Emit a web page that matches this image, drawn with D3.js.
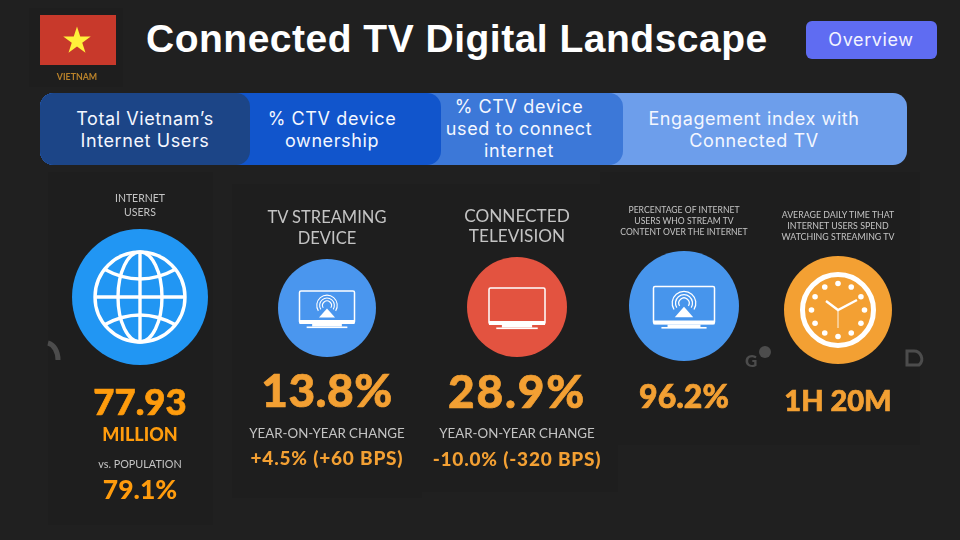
<!DOCTYPE html>
<html>
<head>
<meta charset="utf-8">
<script src="https://cdn.jsdelivr.net/npm/d3@7"></script>
<style>
  html, body { margin: 0; padding: 0; background: #202020; }
  svg { display: block; }
</style>
</head>
<body>
<svg id="canvas"></svg>
<script>
// Data
let titleText = 'Connected TV Digital Landscape'
let badgeText = 'Overview'
let countryText = 'VIETNAM'

let pillLabels = [
  ['Total Vietnam’s', 'Internet Users'],
  ['% CTV device', 'ownership'],
  ['% CTV device', 'used to connect', 'internet'],
  ['Engagement index with', 'Connected TV']
]

let columns = ['users', 'device', 'ctv', 'share', 'time']
let headings = [
  ['INTERNET', 'USERS'],
  ['TV STREAMING', 'DEVICE'],
  ['CONNECTED', 'TELEVISION'],
  ['PERCENTAGE OF INTERNET', 'USERS WHO STREAM TV', 'CONTENT OVER THE INTERNET'],
  ['AVERAGE DAILY TIME THAT', 'INTERNET USERS SPEND', 'WATCHING STREAMING TV']
]
let mainValues = ['77.93', '13.8%', '28.9%', '96.2%', '1H 20M']
let subLabels = ['vs. POPULATION', 'YEAR-ON-YEAR CHANGE', 'YEAR-ON-YEAR CHANGE', '', '']
let subValues = ['79.1%', '+4.5% (+60 BPS)', '-10.0% (-320 BPS)', '', '']
let unitLabel = 'MILLION'

// Layout
let width = 960
let height = 540
let bg = '#202020'
let panelColor = '#1e1e1e'
let labelColor = '#c4c4c4'
let logoColor = '#4c4c4c'
let amber = '#f3a033'
let amberBright = '#ff9c0d'
let infoFont = 'Lato, sans-serif'
let uiFont = 'Inter, sans-serif'

let x = d3.scaleOrdinal().domain(columns).range([140, 327, 517, 684, 838])
let circleY = d3.scaleOrdinal().domain(columns).range([297, 308, 307, 306, 310])
let circleR = d3.scaleOrdinal().domain(columns).range([68, 49, 50, 55, 54])
let circleFill = d3.scaleOrdinal().domain(columns).range(['#2196f3', '#4a96ee', '#e35340', '#4795ec', '#f3a033'])
let headY = d3.scaleOrdinal().domain(columns).range([202, 223, 222, 213, 218])
let headStep = d3.scaleOrdinal().domain(columns).range([14, 21, 20, 11, 11])
let headSize = d3.scaleOrdinal().domain(columns).range([10.5, 16.5, 17.2, 8.6, 8.8])
let valueY = d3.scaleOrdinal().domain(columns).range([415, 407, 408, 408, 411])
let valueSize = d3.scaleOrdinal().domain(columns).range([36.5, 46, 46, 32, 29])
let valueSpacing = d3.scaleOrdinal().domain(columns).range([0, 0.5, 1.8, 0, 0])
let subLabelY = d3.scaleOrdinal().domain(columns).range([468, 438, 438, 0, 0])
let subLabelSize = d3.scaleOrdinal().domain(columns).range([10.8, 13.3, 13.3, 0, 0])
let subValueY = d3.scaleOrdinal().domain(columns).range([499, 465, 466, 0, 0])
let subValueSize = d3.scaleOrdinal().domain(columns).range([26.5, 19, 19, 0, 0])
let subValueSpacing = d3.scaleOrdinal().domain(columns).range([0, 0.8, 0.8, 0, 0])

let pillX = d3.scaleOrdinal().domain([0, 1, 2, 3]).range([250, 441, 623, 907])
let pillFill = d3.scaleOrdinal().domain([0, 1, 2, 3]).range(['#1c4587', '#1155cc', '#3c78d8', '#6d9eeb'])
let pillTextX = d3.scaleOrdinal().domain([0, 1, 2, 3]).range([145, 332, 519, 754])

let svg = d3.select('#canvas').attr('width', width).attr('height', height)
svg.append('rect').attr('width', width).attr('height', height).attr('fill', bg)

// the infographic was pasted in as a soft image, so keep it a little blurry
// sRGB here, the default linearRGB crushes the dark panel colours
let defs = svg.append('defs')
defs.append('filter')
  .attr('id', 'soft')
  .attr('color-interpolation-filters', 'sRGB')
  .append('feGaussianBlur')
  .attr('stdDeviation', 0.65)

let drawHeader = () => {
  let flag = svg.append('g').attr('filter', 'url(#soft)')
  flag.append('rect').attr('x', 29).attr('y', 8).attr('width', 94).attr('height', 79).attr('fill', panelColor)
  flag.append('rect').attr('x', 40).attr('y', 15).attr('width', 76).attr('height', 50).attr('fill', '#c8392b')

  flag.append('path')
    .attr('d', d3.symbol(d3.symbolStar, 235)())
    .attr('transform', 'translate(77,41)')
    .attr('fill', '#fff13a')

  flag.append('text')
    .attr('x', 77).attr('y', 80)
    .attr('text-anchor', 'middle')
    .attr('font-family', infoFont).attr('font-size', 8.8).attr('font-weight', 700)
    .attr('fill', '#b9822a')
    .text(countryText)

  svg.append('text')
    .attr('x', 146).attr('y', 52)
    .attr('font-family', 'Liberation Sans, Arial, sans-serif')
    .attr('font-size', 39).attr('font-weight', 700)
    .attr('letter-spacing', 0.5)
    .attr('fill', '#fff')
    .text(titleText)

  svg.append('rect')
    .attr('x', 806).attr('y', 21).attr('width', 131).attr('height', 38)
    .attr('rx', 6).attr('fill', '#5f6cf2')

  svg.append('text')
    .attr('x', 871).attr('y', 46)
    .attr('text-anchor', 'middle')
    .attr('font-family', uiFont).attr('font-size', 18).attr('letter-spacing', 0.6)
    .attr('fill', '#f2f3ff')
    .text(badgeText)
}

let drawPills = () => {
  // painted back to front so each one overlaps the next
  let order = [3, 2, 1, 0]
  svg.append('g').selectAll('rect')
    .data(order)
    .enter()
    .append('rect')
    .attr('x', 40)
    .attr('y', 93)
    .attr('width', (i) => pillX(i) - 40)
    .attr('height', 72)
    .attr('rx', 14)
    .attr('fill', (i) => pillFill(i))

  pillLabels.forEach((lines, i) => {
    let firstY = lines.length === 3 ? 113 : 125
    svg.append('g').selectAll('text')
      .data(lines)
      .enter()
      .append('text')
      .attr('x', pillTextX(i))
      .attr('y', (d, n) => firstY + n * 22)
      .attr('text-anchor', 'middle')
      .attr('font-family', uiFont).attr('font-size', 18).attr('letter-spacing', 0.6)
      .attr('fill', '#f4f7ff')
      .text((d) => d)
  })
}

let drawTv = (g, w, h, waves) => {
  g.append('rect')
    .attr('x', -w / 2).attr('y', -h / 2).attr('width', w).attr('height', h)
    .attr('rx', 1.5).attr('fill', 'none').attr('stroke', '#fff').attr('stroke-width', 1.5)
  g.append('rect')
    .attr('x', -w / 2).attr('y', h / 2 - 3).attr('width', w).attr('height', 4).attr('fill', '#fff')
  g.append('rect')
    .attr('x', -w * 0.27).attr('y', h / 2 + 1).attr('width', w * 0.54).attr('height', 2.5).attr('fill', '#fff')
  g.append('rect')
    .attr('x', -w * 0.37).attr('y', h / 2 + 3.5).attr('width', w * 0.74).attr('height', 1.6).attr('fill', '#fff')
  if (waves) {
    let ring = d3.arc().startAngle(-Math.PI * 0.68).endAngle(Math.PI * 0.68)
    ;[0.14, 0.23, 0.32].forEach((r) => {
      g.append('path')
        .attr('d', ring({ innerRadius: h * r - h * 0.017, outerRadius: h * r + h * 0.017 }))
        .attr('transform', `translate(0,${-h * 0.05})`)
        .attr('fill', '#fff')
    })
    g.append('path')
      .attr('d', `M${-h * 0.25},${h * 0.33}L0,${h * 0.05}L${h * 0.25},${h * 0.33}Z`)
      .attr('fill', '#fff')
  }
}

let drawGlobe = (g) => {
  let r = 45
  let line = g.append('g').attr('fill', 'none').attr('stroke', '#fff').attr('stroke-width', 3.4)
  line.append('circle').attr('r', r)
  line.append('ellipse').attr('rx', 22).attr('ry', r)
  line.append('line').attr('y1', -r).attr('y2', r)
  line.append('line').attr('x1', -r).attr('x2', r)
  line.append('path').attr('d', 'M-36,-28Q0,-8 36,-28')
  line.append('path').attr('d', 'M-36,28Q0,8 36,28')
}

let drawClock = (g) => {
  g.append('circle').attr('r', 35.5).attr('fill', 'none').attr('stroke', '#fff').attr('stroke-width', 5)
  g.selectAll('circle.dot')
    .data(d3.range(12))
    .enter()
    .append('circle')
    .attr('class', 'dot')
    .attr('cx', (d) => 26.5 * Math.cos(d * Math.PI / 6))
    .attr('cy', (d) => 26.5 * Math.sin(d * Math.PI / 6))
    .attr('r', 2.8)
    .attr('fill', '#fff')
  g.append('path').attr('d', 'M-12,-9L0,0L19,-10').attr('fill', 'none').attr('stroke', '#fff').attr('stroke-width', 2.4)
  g.append('line').attr('y2', 18).attr('stroke', '#fff').attr('stroke-width', 0.9)
}

let drawInfographic = () => {
  let art = svg.append('g').attr('filter', 'url(#soft)')

  art.append('g').attr('fill', panelColor).selectAll('path')
    .data(['M48,172H213V525H48Z', 'M232,184H422V498H232Z', 'M420,184H618V492H420Z', 'M600,172H920V445H600Z'])
    .enter()
    .append('path')
    .attr('d', (d) => d)

  // bits of neighbouring logos cut off by the crop
  art.append('path')
    .attr('d', 'M48,343A12,17 0 0 1 58,360').attr('fill', 'none').attr('stroke', logoColor).attr('stroke-width', 5)
  art.append('text')
    .attr('x', 745).attr('y', 367)
    .attr('font-family', infoFont).attr('font-size', 17).attr('font-weight', 900).attr('fill', logoColor)
    .text('G')
  art.append('circle').attr('cx', 765).attr('cy', 352).attr('r', 6).attr('fill', logoColor)
  art.append('path')
    .attr('d', 'M907,351H913A8,8 0 0 1 919,365H907Z')
    .attr('fill', 'none').attr('stroke', logoColor).attr('stroke-width', 3)

  columns.forEach((c, i) => {
    let cx = x(c)
    let valueColor = c === 'users' ? amberBright : amber

    art.append('g').selectAll('text')
      .data(headings[i])
      .enter()
      .append('text')
      .attr('x', cx)
      .attr('y', (d, n) => headY(c) + n * headStep(c))
      .attr('text-anchor', 'middle')
      .attr('font-family', infoFont).attr('font-size', headSize(c))
      .attr('fill', labelColor)
      .text((d) => d)

    art.append('circle')
      .attr('cx', cx).attr('cy', circleY(c)).attr('r', circleR(c))
      .attr('fill', circleFill(c))

    let icon = art.append('g').attr('transform', `translate(${cx},${circleY(c)})`)
    if (c === 'users') drawGlobe(icon)
    if (c === 'device') drawTv(icon.append('g').attr('transform', 'translate(0,-1)'), 55, 32, true)
    if (c === 'ctv') drawTv(icon.append('g').attr('transform', 'translate(0,-1)'), 56, 36, false)
    if (c === 'share') drawTv(icon.append('g').attr('transform', 'translate(0,-1)'), 61, 37, true)
    if (c === 'time') drawClock(icon)

    art.append('text')
      .attr('x', cx).attr('y', valueY(c))
      .attr('text-anchor', 'middle')
      .attr('font-family', infoFont).attr('font-size', valueSize(c)).attr('font-weight', 900)
      .attr('letter-spacing', valueSpacing(c))
      .attr('fill', valueColor)
      .attr('stroke', valueColor).attr('stroke-width', 0.7)
      .text(mainValues[i])

    if (subLabels[i] !== '') {
      art.append('text')
        .attr('x', cx).attr('y', subLabelY(c))
        .attr('text-anchor', 'middle')
        .attr('font-family', infoFont).attr('font-size', subLabelSize(c))
        .attr('fill', labelColor)
        .text(subLabels[i])

      art.append('text')
        .attr('x', cx).attr('y', subValueY(c))
        .attr('text-anchor', 'middle')
        .attr('font-family', infoFont).attr('font-size', subValueSize(c)).attr('font-weight', 900)
        .attr('letter-spacing', subValueSpacing(c))
        .attr('fill', valueColor)
        .text(subValues[i])
    }
  })

  art.append('text')
    .attr('x', x('users')).attr('y', 441)
    .attr('text-anchor', 'middle')
    .attr('font-family', infoFont).attr('font-size', 18).attr('font-weight', 900)
    .attr('fill', amberBright)
    .text(unitLabel)
}

drawHeader()
drawPills()
drawInfographic()
</script>
</body>
</html>
